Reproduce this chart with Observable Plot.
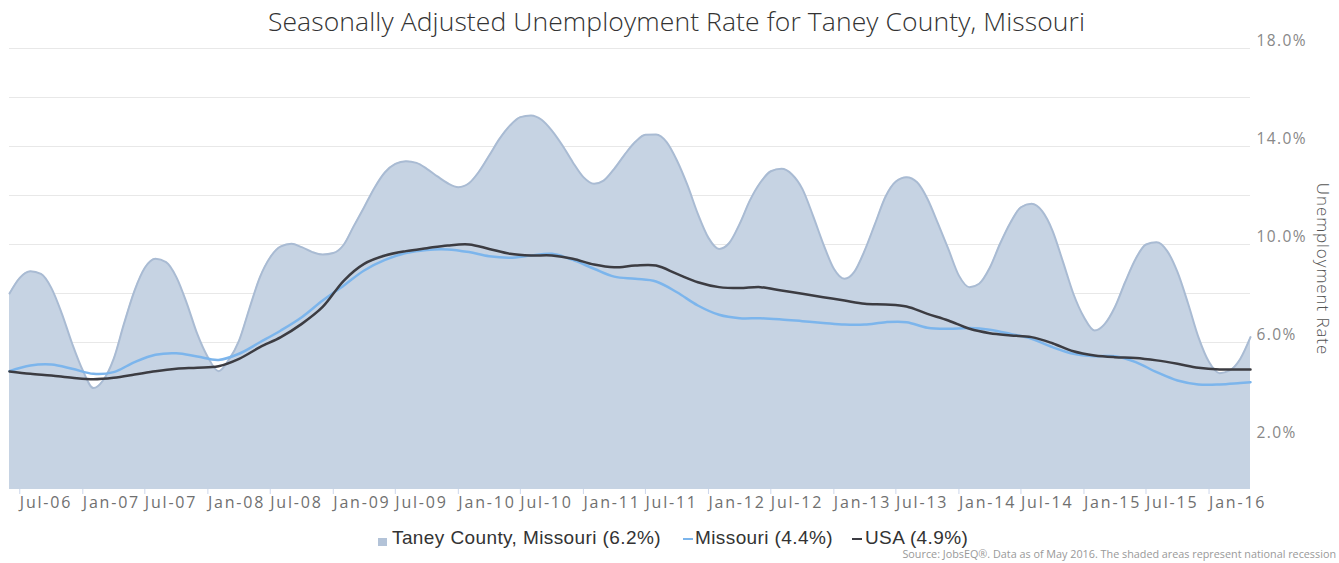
<!DOCTYPE html>
<html><head><meta charset="utf-8">
<script src="https://cdn.jsdelivr.net/npm/d3@7"></script>
<script src="https://cdn.jsdelivr.net/npm/@observablehq/plot@0.6"></script>
<style>
body{margin:0;background:#fff;}
#wrap{position:relative;width:1339px;height:563px;overflow:hidden;font-family:"Open Sans",sans-serif;}
#title{position:absolute;top:3px;left:7px;width:1339px;text-align:center;font-weight:300;font-size:26.5px;letter-spacing:0.1px;color:#333;white-space:nowrap;}
#chart{position:absolute;top:0;left:0;}
.leg{position:absolute;top:527px;font-family:"Liberation Sans",Arial,sans-serif;font-size:19px;letter-spacing:0.4px;color:#333;white-space:nowrap;line-height:22px;}
.mk{position:absolute;}
#source{position:absolute;top:547px;right:3px;font-size:10.8px;line-height:14px;color:#999;white-space:nowrap;}
g[aria-label="x-axis tick label"] text{letter-spacing:1.8px;}
g[aria-label="y-axis tick label"] text{letter-spacing:1.4px;}
g[aria-label="text"] text{letter-spacing:0.9px;}
</style>
</head><body>
<div id="wrap">
  <div id="chart"></div>
  <div id="title"></div>
  <div class="mk" style="left:378px;top:538px;width:9px;height:8px;background:#b3c3d8"></div>
  <div class="leg" id="leg0" style="left:392px"></div>
  <div class="mk" style="left:683px;top:538px;width:10px;height:2px;background:#7cb5ec"></div>
  <div class="leg" id="leg1" style="left:695px"></div>
  <div class="mk" style="left:852px;top:538px;width:10px;height:2px;background:#3c3c42"></div>
  <div class="leg" id="leg2" style="left:865px"></div>
  <div id="source"></div>
</div>
<script>
const titleText = "Seasonally Adjusted Unemployment Rate for Taney County, Missouri";
const yTitle = "Unemployment Rate";
const sourceText = "Source: JobsEQ®. Data as of May 2016. The shaded areas represent national recession";
const seriesNames = ["Taney County, Missouri", "Missouri", "USA"];
const latestValues = ["6.2%", "4.4%", "4.9%"];

const firstMonth = "2006-06";
const lastMonth = "2016-05";

// Taney County, monthly Jun-06 .. May-16
const taneyValues = [
  8.0,8.64,8.91,8.80,8.23,7.17,5.95,4.86,4.14,4.45,
  5.33,6.76,8.12,9.05,9.42,9.28,8.67,7.58,6.35,5.40,
  4.83,5.27,6.08,7.38,8.67,9.48,9.92,10.03,9.89,9.69,
  9.59,9.65,10.0,10.73,11.52,12.31,12.95,13.29,13.40,13.33,
  13.09,12.78,12.50,12.34,12.50,12.95,13.63,14.31,14.86,15.20,
  15.27,15.09,14.65,14.04,13.36,12.75,12.48,12.61,13.09,13.66,
  14.18,14.48,14.49,14.18,13.43,12.41,11.25,10.27,9.82,10.05,
  10.84,11.80,12.54,12.99,13.09,12.86,12.27,11.18,10.03,9.01,
  8.60,8.87,9.76,10.84,11.96,12.57,12.75,12.54,11.87,10.85,
  9.82,8.73,8.26,8.40,9.05,10.03,10.91,11.52,11.66,11.36,
  10.57,9.28,7.99,7.03,6.49,6.73,7.44,8.46,9.42,10.0,
  10.09,9.73,8.87,7.58,6.22,5.20,4.75,4.86,5.33,6.22
];

// Missouri and USA, every second month from Jun-06, plus May-16
const missouriValues = [
  4.83,5.06,5.10,4.93,4.72,4.79,5.20,5.50,5.56,5.43,
  5.29,5.54,6.01,6.49,7.03,7.71,8.33,8.94,9.37,9.65,
  9.78,9.80,9.69,9.52,9.46,9.55,9.62,9.37,9.01,8.69,
  8.60,8.49,8.05,7.51,7.13,6.99,6.99,6.94,6.87,6.80,
  6.73,6.73,6.83,6.83,6.60,6.56,6.59,6.52,6.35,6.15,
  5.81,5.54,5.44,5.44,5.20,4.79,4.45,4.29,4.29,4.35,
  4.38
];
const usaValues = [
  4.82,4.72,4.65,4.56,4.50,4.56,4.69,4.83,4.93,4.97,
  5.03,5.33,5.81,6.22,6.76,7.45,8.53,9.21,9.55,9.73,
  9.85,9.96,10.0,9.82,9.62,9.55,9.55,9.42,9.18,9.07,
  9.14,9.14,8.80,8.46,8.26,8.22,8.26,8.12,7.99,7.85,
  7.71,7.58,7.55,7.47,7.17,6.90,6.56,6.38,6.29,6.22,
  5.97,5.64,5.47,5.40,5.37,5.27,5.13,4.97,4.90,4.90,
  4.90
];

const xTickLabels = ["Jul-06","Jan-07","Jul-07","Jan-08","Jul-08","Jan-09","Jul-09","Jan-10","Jul-10","Jan-11",
  "Jul-11","Jan-12","Jul-12","Jan-13","Jul-13","Jan-14","Jul-14","Jan-15","Jul-15","Jan-16"];
const yLabelTicks = [2, 6, 10, 14, 18];
const yGridTicks = [2, 4, 6, 8, 10, 12, 14, 16, 18];

// build tables
const parseM = d3.utcParse("%Y-%m");
const d0 = parseM(firstMonth), d1 = parseM(lastMonth);
const monthDates = d3.utcMonth.range(d0, d3.utcMonth.offset(d1, 1));
const taney = taneyValues.map((v, i) => ({date: monthDates[i], value: v}));
const lineDates = d3.utcMonth.range(d0, d1, 2).concat([d1]);
const missouri = missouriValues.map((v, i) => ({date: lineDates[i], value: v}));
const usa = usaValues.map((v, i) => ({date: lineDates[i], value: v}));
const parseTick = d3.utcParse("%b-%y");
const xTicks = xTickLabels.map(parseTick);

const chart = Plot.plot({
  width: 1339, height: 520,
  marginTop: 48, marginBottom: 31, marginLeft: 9, marginRight: 89,
  style: {fontFamily: '"Open Sans", sans-serif', background: "transparent", overflow: "visible"},
  x: {type: "utc", domain: [d0, d1]},
  y: {domain: [0, 18]},
  marks: [
    Plot.gridY(yGridTicks, {stroke: "#e8e8e8", strokeOpacity: 1}),
    Plot.areaY(taney, {x: "date", y: "value", fill: "#c6d3e3", curve: "monotone-x"}),
    Plot.lineY(taney, {x: "date", y: "value", stroke: "#a9bbd3", strokeWidth: 2, curve: "monotone-x"}),
    Plot.lineY(missouri, {x: "date", y: "value", stroke: "#7cb5ec", strokeWidth: 2.5, curve: "catmull-rom"}),
    Plot.lineY(usa, {x: "date", y: "value", stroke: "#3c3c42", strokeWidth: 2.5, curve: "catmull-rom"}),
    Plot.axisX({ticks: xTicks, tickFormat: d3.utcFormat("%b-%y"), tickSize: 5, tickPadding: 2,
      textAnchor: "start", stroke: "#ccd6eb", fill: "#707070", fontSize: 16, label: null}),
    Plot.axisY({anchor: "right", ticks: yLabelTicks, tickFormat: d => d.toFixed(1) + "%", tickSize: 0,
      tickPadding: 6, dy: -7, fill: "#888", fontSize: 15.5, label: null}),
    Plot.text([yTitle], {frameAnchor: "right", textAnchor: "middle", dx: 72, rotate: 90,
      fontSize: 17, fill: "#555", fontWeight: 300})
  ]
});
document.getElementById("chart").appendChild(chart);
document.getElementById("title").textContent = titleText;
seriesNames.forEach((n, i) => {
  document.getElementById("leg" + i).textContent = n + " (" + latestValues[i] + ")";
});
document.getElementById("source").textContent = sourceText;
</script>
</body></html>
